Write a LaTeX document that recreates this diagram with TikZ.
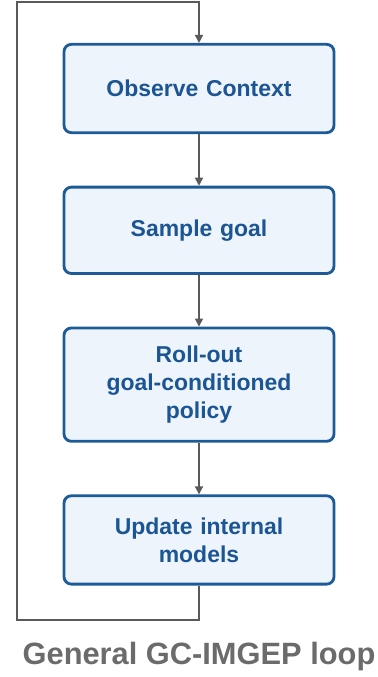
\documentclass[tikz,border=0pt]{standalone}
\usepackage{fontspec}
\setmainfont{Liberation Sans}
\usepackage{xcolor}
\usepackage{tikz}
\usetikzlibrary{arrows.meta, positioning}
\definecolor{boxline}{HTML}{1D5A98}
\definecolor{boxfill}{HTML}{EEF4FB}
\definecolor{boxtext}{HTML}{1B5594}
\definecolor{linegray}{HTML}{5A5A5A}
\tikzstyle{stepbox} = [rectangle, draw=boxline, line width=2.4pt, fill=boxfill, rounded corners=0.22cm, minimum width=8.1cm, text width=7.6cm, align=center, text=boxtext, font=\bfseries\fontsize{19.6}{23.9}\selectfont]
\tikzstyle{arrow} = [-{Triangle[length=0.24cm, width=0.24cm]}, line width=1.4pt, draw=linegray]

\begin{document}
\begin{tikzpicture}[node distance=1.55cm]
                \useasboundingbox (0,0) rectangle (11.34,-20.31);
                \node[stepbox, minimum height=2.65cm] (observe) at (5.97,-2.655) {Observe Context};
                \node[stepbox, minimum height=2.59cm, below=of observe] (sample) {Sample goal};
                \node[stepbox, minimum height=3.4cm, below=of sample] (rollout) {Roll-out\\goal-conditioned\\policy};
                \node[stepbox, minimum height=2.65cm, below=of rollout] (update) {Update internal\\models};
                \draw[arrow] (observe) -- (sample);
                \draw[arrow] (sample) -- (rollout);
                \draw[arrow] (rollout) -- (update);
                % back to the top
                \coordinate (loopbl) at (0.51,-18.6);
                \coordinate (looptl) at (0.51,-0.06);
                \draw[arrow] (update.south) |- (loopbl) -- (looptl) -| (observe.north);
                \node[anchor=base, text=linegray!90!white, font=\bfseries\fontsize{26.3}{30}\selectfont] (title) at (5.97,-19.92) {General GC-IMGEP loop};
            \end{tikzpicture}
\end{document}
